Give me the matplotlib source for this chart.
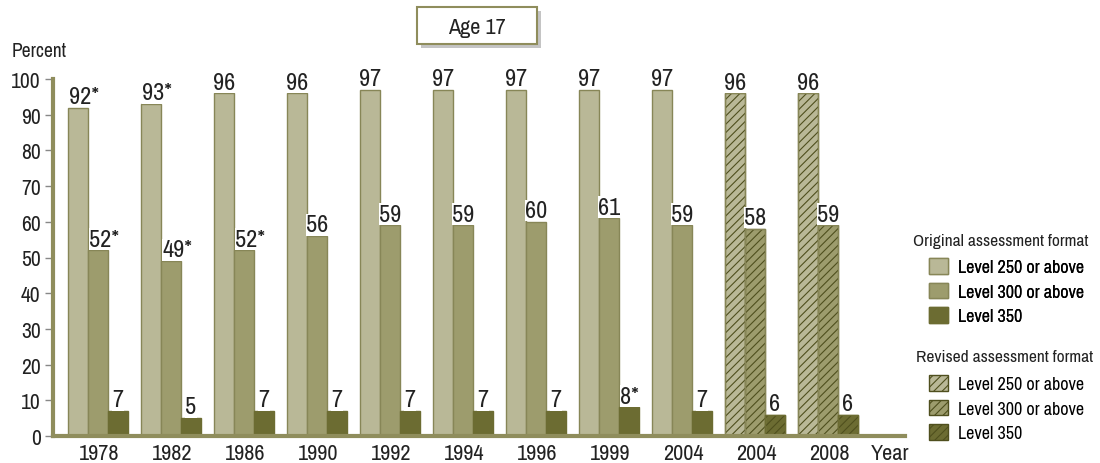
import numpy as np
import matplotlib.pyplot as plt
from matplotlib.patches import Patch, Rectangle

plt.rcParams['font.family'] = ['Archivo Narrow', 'DejaVu Sans']
plt.rcParams['hatch.linewidth'] = 0.8

# Data
years = ['1978', '1982', '1986', '1990', '1992', '1994', '1996', '1999', '2004', '2004', '2008']
lvl250 = [92, 93, 96, 96, 97, 97, 97, 97, 97, 96, 96]
lvl300 = [52, 49, 52, 56, 59, 59, 60, 61, 59, 58, 59]
lvl350 = [7, 5, 7, 7, 7, 7, 7, 8, 7, 6, 6]
star250 = [True, True, False, False, False, False, False, False, False, False, False]
star300 = [True, True, True, False, False, False, False, False, False, False, False]
star350 = [False, False, False, False, False, False, False, True, False, False, False]
revised = [False] * 9 + [True, True]

c_light = '#b9b897'
c_mid = '#9d9c6d'
c_dark = '#6c6c32'
c_edge = '#878657'
c_hatch = '#4f4f1e'
c_axis = '#8f8d5c'
c_text = '#222222'

fig = plt.figure(figsize=(11, 4.64), dpi=100)
ax = fig.add_axes([53 / 1100, 1 - 437 / 464, (905 - 53) / 1100, (437 - 80) / 464])

x = np.arange(len(years))
w = 20 / 73

series = [(lvl250, star250, c_light, -w), (lvl300, star300, c_mid, 0), (lvl350, star350, c_dark, w)]
for vals, stars, col, off in series:
    for i in range(len(years)):
        ec = col if col == c_dark else c_edge
        ax.bar(x[i] + off, vals[i], width=w, color=col, edgecolor=ec, linewidth=1, zorder=2)
        if revised[i]:
            # hatch lines in dark olive, then outline on top
            ax.bar(x[i] + off, vals[i], width=w, color='none', edgecolor=c_hatch,
                   linewidth=0, hatch='////', zorder=3)
            ax.bar(x[i] + off, vals[i], width=w, color='none', edgecolor=ec,
                   linewidth=1, zorder=3)
        lbl = str(vals[i])
        if stars[i]:
            ax.text(x[i] + off - w / 2 + 0.02, vals[i] + 0.2, lbl + '*', ha='left', va='bottom',
                    fontsize=17.5, color=c_text, zorder=4,
                    bbox=dict(facecolor='white', edgecolor='none', pad=0.2))
        else:
            ax.text(x[i] + off, vals[i] + 0.2, lbl, ha='center', va='bottom',
                    fontsize=17.5, color=c_text, zorder=4,
                    bbox=dict(facecolor='white', edgecolor='none', pad=0.2))

ax.set_xlim(-0.616, 11.055)
ax.set_ylim(0, 100)
ax.set_yticks(range(0, 101, 10))
ax.set_xticks(list(x + 0.02) + [10.85])
ax.set_xticklabels(years + ['Year'])
ax.tick_params(axis='x', length=0, pad=5, labelsize=16, labelcolor=c_text)
ax.tick_params(axis='y', length=6, width=1, color='#888888', pad=3, labelsize=15.5, labelcolor=c_text)

for s in ['top', 'right']:
    ax.spines[s].set_visible(False)
for s in ['left', 'bottom']:
    ax.spines[s].set_color(c_axis)
    ax.spines[s].set_linewidth(3)
    ax.spines[s].set_zorder(5)

fig.text(12 / 1100, 1 - 52 / 464, 'Percent', fontsize=14, color=c_text, va='center', ha='left')

# Age 17 box with shadow
fig.patches.append(Rectangle((421 / 1100, 1 - 49 / 464), 120 / 1100, 37 / 464,
                             transform=fig.transFigure, facecolor='#c4c4c4', edgecolor='none'))
fig.patches.append(Rectangle((417 / 1100, 1 - 45 / 464), 120 / 1100, 37 / 464,
                             transform=fig.transFigure, facecolor='white', edgecolor=c_axis,
                             linewidth=1.5))
fig.text(477 / 1100, 1 - 28 / 464, 'Age 17', fontsize=16, color=c_text, ha='center', va='center')

# Legends
labels = ['Level 250 or above', 'Level 300 or above', 'Level 350']
orig = [Patch(facecolor=c, edgecolor=c_edge if c != c_dark else c) for c in [c_light, c_mid, c_dark]]
rev = [Patch(facecolor=c, edgecolor=c_hatch, hatch='////') for c in [c_light, c_mid, c_dark]]

fig.text(913 / 1100, 1 - 242 / 464, 'Original assessment format', fontsize=12.5,
         color=c_text, ha='left', va='center')
fig.text(916 / 1100, 1 - 358 / 464, 'Revised assessment format', fontsize=12.5,
         color=c_text, ha='left', va='center')

leg_kw = dict(loc='upper left', frameon=False, fontsize=13, handlelength=1.05,
              handleheight=0.95, labelspacing=0.42, handletextpad=0.55, borderpad=0,
              borderaxespad=0)
leg1 = fig.legend(orig, labels, bbox_to_anchor=(929 / 1100, 1 - 259 / 464), **leg_kw)
leg2 = fig.legend(rev, labels, bbox_to_anchor=(929 / 1100, 1 - 376 / 464), **leg_kw)
fig.add_artist(leg1)

fig.savefig('out.png', dpi=100)
